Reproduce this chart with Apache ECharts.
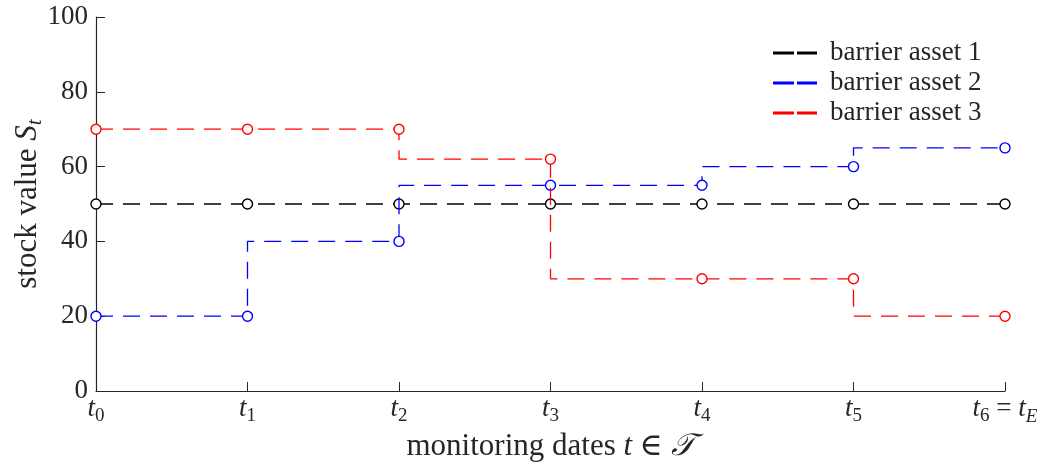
<!DOCTYPE html>
<html><head><meta charset="utf-8">
<script src="https://cdn.jsdelivr.net/npm/echarts@6/dist/echarts.min.js"></script>
<style>html,body{margin:0;padding:0;background:#fff}#c{width:1048px;height:468px}</style>
</head><body><div id="c"></div>
<script>
const dates = [0, 1, 2, 3, 4, 5, 6];
const tickSubs = ['0', '1', '2', '3', '4', '5', '6'];
const asset1 = [50, 50, 50, 50, 50, 50, 50];
const asset2 = [20, 20, 40, 55, 55, 60, 65];
const asset3 = [70, 70, 70, 62, 30, 30, 20];
const names = ['barrier asset 1', 'barrier asset 2', 'barrier asset 3'];
const colors = ['#000000', '#0000ff', '#ff0000'];
const yTicks = [0, 20, 40, 60, 80, 100];

const F = 'Liberation Serif, DejaVu Serif, serif';
const TXT = '#262626';
const chart = echarts.init(document.getElementById('c'), null, {renderer: 'canvas'});
function mk(i, vals) {
  return {
    name: names[i], type: 'line', step: 'start',
    data: dates.map((d, k) => [d, vals[k]]),
    symbol: 'circle', symbolSize: 10, showSymbol: true,
    itemStyle: {color: '#fff', borderColor: colors[i], borderWidth: 1.4},
    lineStyle: {color: colors[i], width: 1.3, type: [17, 10]},
    color: colors[i], z: 2 + i, animation: false
  };
}
chart.setOption({
  animation: false,
  grid: {left: 96, right: 43, top: 17, bottom: 77, containLabel: false, outerBoundsMode: 'none'},
  legend: {
    data: names.map((n, i) => ({name: n, icon: 'path://M0,0 L19,0 L19,1 L0,1 Z M24,0 L42,0 L42,1 L24,1 Z', itemStyle: {color: colors[i]}})),
    orient: 'vertical', left: 773, top: 38, padding: 0, itemWidth: 42, itemHeight: 1.2, itemGap: 0,
    textStyle: {fontFamily: F, fontSize: 27, color: TXT, lineHeight: 30, padding: [0, 0, 0, 9]}
  },
  xAxis: {
    type: 'value', min: 0, max: 6, interval: 1,
    name: '{n|monitoring dates }{i|t}{n| ∈ }{i|𝒯}', nameLocation: 'middle', nameGap: 38, nameMoveOverlap: false,
    nameTextStyle: {fontFamily: F, color: TXT, rich: {
      n: {fontFamily: F, fontSize: 31, lineHeight: 36, color: TXT},
      i: {fontFamily: F, fontStyle: 'italic', fontSize: 31, lineHeight: 36, color: TXT}}},
    axisLine: {lineStyle: {color: TXT, width: 1.2}},
    axisTick: {inside: true, length: 9, lineStyle: {color: TXT, width: 1}},
    splitLine: {show: false},
    axisLabel: {
      margin: 1,
      formatter: function (v) {
        const k = Math.round(v);
        if (k === 6) return '{t|t}{s|' + tickSubs[k] + '}{e| = }{t|t}{si|E}';
        return '{t|t}{s|' + tickSubs[k] + '}';
      },
      rich: {
        t: {fontFamily: F, fontStyle: 'italic', fontSize: 27, lineHeight: 34, color: TXT},
        e: {fontFamily: F, fontSize: 27, lineHeight: 34, color: TXT},
        s: {fontFamily: F, fontSize: 19, lineHeight: 22, verticalAlign: 'bottom', color: TXT},
        si: {fontFamily: F, fontStyle: 'italic', fontSize: 19, lineHeight: 22, verticalAlign: 'bottom', color: TXT}
      }
    }
  },
  yAxis: {
    type: 'value', min: 0, max: 100, interval: 20,
    name: '{n|stock value }{S|S}{s|t}', nameLocation: 'middle', nameGap: 50, nameRotate: 90, nameMoveOverlap: false,
    nameTextStyle: {rich: {
      n: {fontFamily: F, fontSize: 31, lineHeight: 36, color: TXT},
      S: {fontFamily: F, fontStyle: 'italic', fontSize: 31, lineHeight: 36, color: TXT},
      s: {fontFamily: F, fontStyle: 'italic', fontSize: 21, lineHeight: 24, verticalAlign: 'bottom', color: TXT}
    }},
    axisLine: {show: true, lineStyle: {color: TXT, width: 1.2}},
    axisTick: {show: true, inside: true, length: 9, lineStyle: {color: TXT, width: 1}},
    splitLine: {show: false},
    axisLabel: {margin: 8, fontFamily: F, fontSize: 27, color: TXT,
      formatter: v => String(yTicks[yTicks.indexOf(v)])}
  },
  series: [mk(0, asset1), mk(1, asset2), mk(2, asset3)]
});
</script></body></html>
